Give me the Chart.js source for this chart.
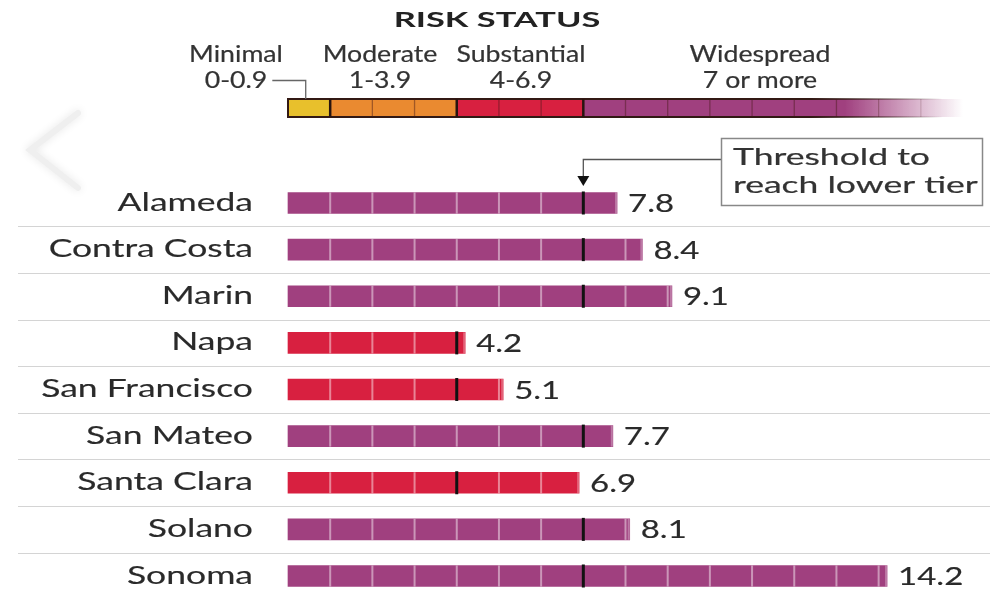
<!DOCTYPE html>
<html><head><meta charset="utf-8">
<script src="https://cdn.jsdelivr.net/npm/chart.js@4"></script>
<style>html,body{margin:0;padding:0;background:#fff}#wrap{width:990px;height:595px;position:relative}</style>
</head><body><div id="wrap"><canvas id="c" width="990" height="595"></canvas></div>
<script>
// ---- data ----
const counties = ['Alameda','Contra Costa','Marin','Napa','San Francisco','San Mateo','Santa Clara','Solano','Sonoma'];
const caseRates = [7.8, 8.4, 9.1, 4.2, 5.1, 7.7, 6.9, 8.1, 14.2];
const thresholds = [7, 7, 7, 4, 4, 7, 4, 7, 7];
const tierNames = ['Minimal', 'Moderate', 'Substantial', 'Widespread'];
const tierRanges = ['0-0.9', '1-3.9', '4-6.9', '7 or more'];
const tierStarts = [0, 1, 4, 7];
const legendTitle = 'RISK STATUS';
const noteLines = ['Threshold to', 'reach lower tier'];

// ---- styles ----
const tierColors = ['#E8C02C', '#EA8A30', '#D82040', '#A0407F'];
const scaleMax = 16;
const FONT = 'Lato, "Open Sans", sans-serif';
const TXT = '#2a2a2a';

function tierOf(v){ let t = 0; tierStarts.forEach((s,i)=>{ if (v >= s) t = i; }); return t; }

function sText(ctx, text, x, y, o){
  ctx.save();
  ctx.font = o.font; ctx.fillStyle = o.color || TXT;
  ctx.textBaseline = o.baseline || 'alphabetic';
  ctx.textAlign = o.align || 'left';
  ctx.translate(x, y); ctx.scale(o.sx || 1.4, 1);
  ctx.fillText(text, 0, 0);
  if (o.thick){ ctx.strokeStyle = o.color || TXT; ctx.lineWidth = o.thick; ctx.lineJoin = 'round'; ctx.strokeText(text, 0, 0); }
  ctx.restore();
}
function sWidth(ctx, text, font, sx){ ctx.save(); ctx.font = font; const w = ctx.measureText(text).width * sx; ctx.restore(); return w; }

const backPlugin = {
  id: 'back',
  beforeDatasetsDraw(chart){
    const ctx = chart.ctx, xs = chart.scales.x, ys = chart.scales.y;
    // faint carousel chevron
    ctx.save();
    ctx.strokeStyle = '#efefef'; ctx.lineWidth = 6; ctx.lineCap = 'round';
    ctx.shadowColor = 'rgba(0,0,0,0.10)'; ctx.shadowBlur = 8;
    ctx.beginPath(); ctx.moveTo(78,113); ctx.lineTo(30,150); ctx.lineTo(78,188); ctx.stroke();
    ctx.restore();

    // row separators
    ctx.save();
    ctx.strokeStyle = '#d4d4d4'; ctx.lineWidth = 1.2;
    for (let i = 0; i < counties.length - 1; i++){
      const y = Math.round((ys.getPixelForValue(i) + ys.getPixelForValue(i+1)) / 2) + 0.5;
      ctx.beginPath(); ctx.moveTo(18, y); ctx.lineTo(990, y); ctx.stroke();
    }
    ctx.restore();

    // legend bar
    const lt = 99, lh = 18;
    const x0 = xs.getPixelForValue(0), xEnd = xs.getPixelForValue(scaleMax);
    const fadeStart = xs.getPixelForValue(13.2);
    ctx.save();
    for (let t = 0; t < tierStarts.length; t++){
      const a = xs.getPixelForValue(tierStarts[t]);
      const b = t < tierStarts.length - 1 ? xs.getPixelForValue(tierStarts[t+1]) : xEnd;
      if (t === tierStarts.length - 1){
        const g = ctx.createLinearGradient(a, 0, b, 0);
        const f = (fadeStart - a) / (b - a);
        g.addColorStop(0, tierColors[t]); g.addColorStop(f, tierColors[t]);
        g.addColorStop(1, 'rgba(160,64,127,0)');
        ctx.fillStyle = g;
      } else ctx.fillStyle = tierColors[t];
      ctx.fillRect(a, lt, b - a, lh);
    }
    const og = ctx.createLinearGradient(x0, 0, xEnd, 0);
    const ff = (fadeStart - x0) / (xEnd - x0);
    og.addColorStop(0, 'rgba(50,25,20,1)'); og.addColorStop(ff - 0.05, 'rgba(50,25,20,1)'); og.addColorStop(0.97, 'rgba(50,25,20,0)');
    ctx.strokeStyle = og; ctx.lineWidth = 2;
    ctx.beginPath(); ctx.moveTo(xEnd, lt); ctx.lineTo(x0, lt); ctx.lineTo(x0, lt + lh); ctx.lineTo(xEnd, lt + lh); ctx.stroke();
    for (let k = 1; k < scaleMax; k++){
      const x = xs.getPixelForValue(k);
      const boundary = tierStarts.includes(k);
      const alpha = x < fadeStart ? 1 : Math.max(0, 1 - (x - fadeStart) / (xEnd - fadeStart));
      ctx.strokeStyle = boundary ? 'rgba(40,20,15,' + alpha + ')' : 'rgba(70,25,25,' + (0.45 * alpha) + ')';
      ctx.lineWidth = boundary ? 2.5 : 1.3;
      ctx.beginPath(); ctx.moveTo(x, lt); ctx.lineTo(x, lt + lh); ctx.stroke();
    }
    ctx.restore();

    // legend texts
    const tf = 'bold 20px ' + FONT;
    sText(ctx, legendTitle, 497, 27, {font: tf, align: 'center', sx: 1.72, color: '#222'});
    const labelX = [236, 380, 521, 760];
    const lf = '23px ' + FONT;
    tierNames.forEach((n, i) => {
      sText(ctx, n, labelX[i], 62, {font: lf, align: 'center', sx: 1.16, color: '#333', thick: 0.2});
      sText(ctx, tierRanges[i], labelX[i], 88, {font: lf, align: 'center', sx: 1.16, color: '#333', thick: 0.2});
    });
    const w0 = sWidth(ctx, tierRanges[0], lf, 1.16);
    const cx = xs.getPixelForValue(0.42);
    ctx.save(); ctx.strokeStyle = '#666'; ctx.lineWidth = 1.3;
    ctx.beginPath(); ctx.moveTo(labelX[0] + w0/2 + 5, 80.5); ctx.lineTo(cx, 80.5); ctx.lineTo(cx, lt); ctx.stroke();
    ctx.restore();

    // annotation box + arrow
    const bx = 721, by = 138, bw = 261, bh = 67;
    const ax = xs.getPixelForValue(thresholds[0]);
    ctx.save();
    ctx.strokeStyle = '#555'; ctx.lineWidth = 1.3;
    ctx.beginPath(); ctx.moveTo(bx, 159.5); ctx.lineTo(ax, 159.5); ctx.lineTo(ax, 178); ctx.stroke();
    ctx.fillStyle = '#111';
    ctx.beginPath(); ctx.moveTo(ax - 6, 176); ctx.lineTo(ax + 6, 176); ctx.lineTo(ax, 186); ctx.closePath(); ctx.fill();
    ctx.strokeStyle = '#888'; ctx.lineWidth = 1.5;
    ctx.strokeRect(bx + 0.5, by + 0.5, bw, bh);
    ctx.restore();
    const nf = '24px ' + FONT;
    sText(ctx, noteLines[0], 733, 165, {font: nf, sx: 1.48, color: '#333', thick: 0.2});
    sText(ctx, noteLines[1], 733, 193, {font: nf, sx: 1.48, color: '#333', thick: 0.2});
  },
  afterDatasetsDraw(chart){
    const ctx = chart.ctx, xs = chart.scales.x;
    const meta = chart.getDatasetMeta(0);
    const vf = '25px ' + FONT;
    meta.data.forEach((bar, i) => {
      const v = caseRates[i];
      const h = bar.height, top = bar.y - h/2;
      ctx.save();
      for (let k = 1; k < v; k++){
        const x = xs.getPixelForValue(k);
        if (k === thresholds[i]){
          ctx.fillStyle = '#111';
          ctx.fillRect(x - 1.5, top - 1, 3, h + 2);
        } else {
          ctx.fillStyle = 'rgba(255,255,255,0.45)';
          ctx.fillRect(x - 1, top, 2, h);
        }
      }
      ctx.fillStyle = 'rgba(255,255,255,0.3)';
      ctx.fillRect(bar.x - 2, top, 2, h);
      ctx.restore();
      sText(ctx, v.toFixed(1), bar.x + 11, bar.y + 9, {font: vf, sx: 1.32, thick: 0.15});
      sText(ctx, counties[i], 253, bar.y + 7.5, {font: vf, sx: 1.42, align: 'right', thick: 0.15});
    });
  }
};

new Chart(document.getElementById('c'), {
  type: 'bar',
  data: {
    labels: counties,
    datasets: [{
      data: caseRates,
      backgroundColor: caseRates.map(v => tierColors[tierOf(v)]),
      barThickness: 21,
      borderWidth: 0,
      clip: false
    }]
  },
  options: {
    indexAxis: 'y',
    responsive: false,
    animation: false,
    events: [],
    layout: {padding: {top: 203, bottom: 19, left: 0, right: 27}},
    plugins: {legend: {display: false}, tooltip: {enabled: false}},
    scales: {
      x: {min: 0, max: scaleMax, display: false},
      y: {
        offset: false,
        grid: {display: false},
        border: {display: false},
        ticks: {display: false},
        afterFit(s){ s.width = 288; }
      }
    }
  },
  plugins: [backPlugin]
});
</script>
</body></html>
